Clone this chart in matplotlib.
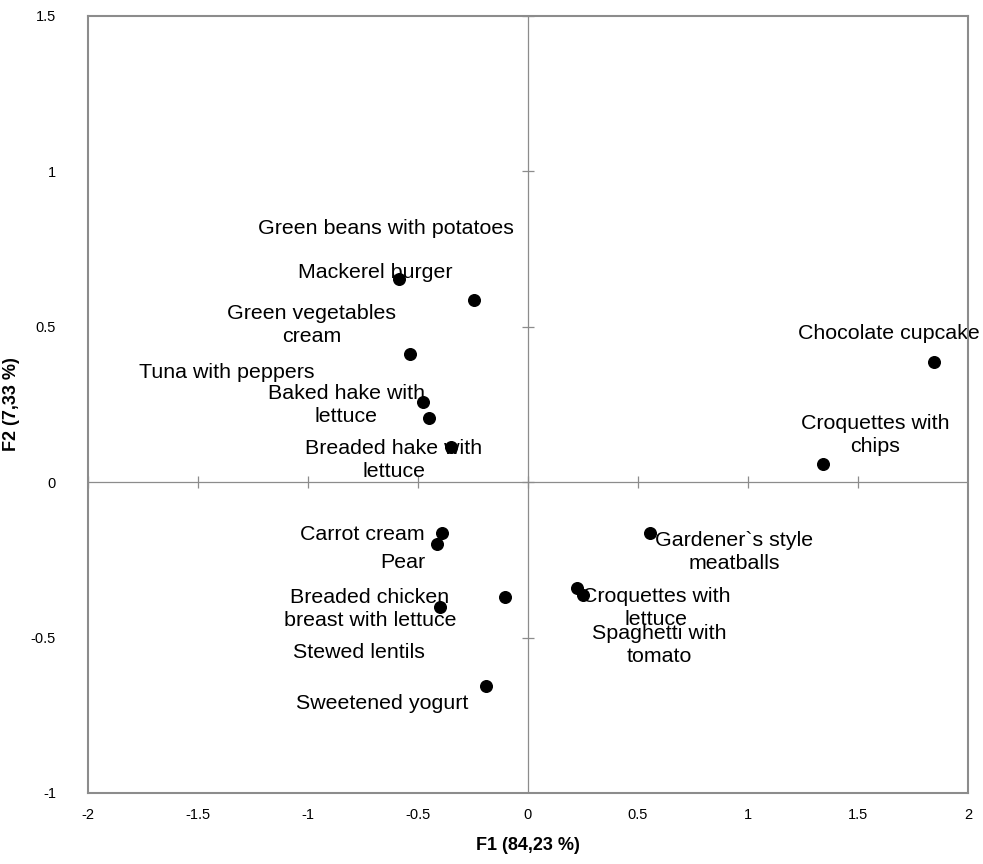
import numpy as np
import matplotlib
matplotlib.use('Agg')
import matplotlib.pyplot as plt

# observation names and F1/F2 coordinates
names = ['Mackerel burger', 'Green beans with potatoes', 'Green vegetables\ncream',
         'Tuna with peppers', 'Baked hake with\nlettuce', 'Breaded hake with\nlettuce',
         'Chocolate cupcake', 'Croquettes with\nchips', 'Carrot cream', 'Pear',
         'Stewed lentils', 'Breaded chicken\nbreast with lettuce', 'Sweetened yogurt',
         'Gardener`s style\nmeatballs', 'Croquettes with\nlettuce', 'Spaghetti with\ntomato']
f1 = [-0.586, -0.245, -0.536, -0.477, -0.450, -0.350,
      1.845, 1.341, -0.391, -0.414,
      -0.105, -0.400, -0.191,
      0.555, 0.222, 0.249]
f2 = [0.653, 0.586, 0.412, 0.257, 0.206, 0.113,
      0.386, 0.058, -0.164, -0.200,
      -0.370, -0.402, -0.656,
      -0.163, -0.341, -0.364]

# label centres (data coords), placed like the original label layout
label_x = [-0.693, -0.645, -0.982, -1.368, -0.827, -0.609,
           1.641, 1.577, -0.755, -0.568,
           -0.768, -0.718, -0.664,
           0.936, 0.582, 0.595]
label_y = [0.676, 0.817, 0.505, 0.354, 0.248, 0.071,
           0.479, 0.151, -0.167, -0.257,
           -0.547, -0.408, -0.711,
           -0.225, -0.405, -0.524]

xlabel = 'F1 (84,23 %)'
ylabel = 'F2 (7,33 %)'
xticks = [-2, -1.5, -1, -0.5, 0, 0.5, 1, 1.5, 2]
yticks = [-1, -0.5, 0, 0.5, 1, 1.5]

font = 'Liberation Sans'

fig = plt.figure(figsize=(9.83, 8.64), dpi=100)
ax = fig.add_axes([0.0895, 0.0822, 0.8952, 0.8993])

ax.set_xlim(-2, 2)
ax.set_ylim(-1, 1.5)

grey = '#8c8c8c'
for s in ax.spines.values():
    s.set_color(grey)
    s.set_linewidth(1.5)

ax.axhline(0, color=grey, lw=0.9, zorder=1)
ax.axvline(0, color=grey, lw=0.9, zorder=1)
# tick crosses on the centre lines
ax.plot(xticks, [0] * len(xticks), ls='none', marker='|', ms=8, mew=0.9, color=grey, zorder=1)
ax.plot([0] * len(yticks), yticks, ls='none', marker='_', ms=8, mew=0.9, color=grey, zorder=1)

ax.scatter(f1, f2, s=70, color='black', zorder=3)

for name, lx, ly in zip(names, label_x, label_y):
    ax.text(lx, ly, name, ha='center', va='center', fontsize=15.4,
            family=font, linespacing=1.25, zorder=2)

ax.set_xticks(xticks)
ax.set_yticks(yticks)
ax.set_xticklabels([f'{t:g}' for t in xticks], family=font, fontsize=10.5)
ax.set_yticklabels([f'{t:g}' for t in yticks], family=font, fontsize=10.5)
ax.tick_params(length=0)
ax.tick_params(axis='x', pad=11)
ax.tick_params(axis='y', pad=23)

ax.set_xlabel(xlabel, family=font, fontsize=13, fontweight='bold', va='top')
ax.set_ylabel(ylabel, family=font, fontsize=13, fontweight='bold')
ax.xaxis.set_label_coords(0.5, -0.057)
ax.yaxis.set_label_coords(-0.077, 0.5)

fig.savefig('out.png', dpi=100)
